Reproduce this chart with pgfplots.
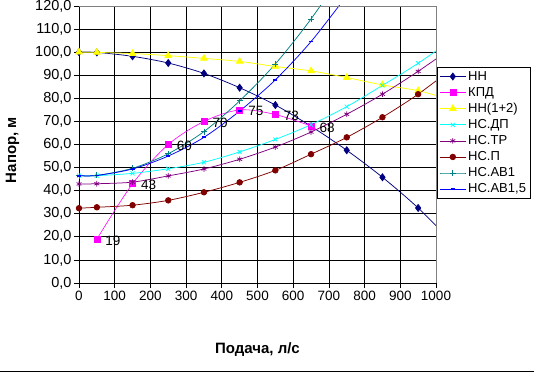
\documentclass[border=0pt]{standalone}
\usepackage{fontspec}
\setmainfont{Liberation Sans}
\usepackage{pgfplots}
\pgfplotsset{compat=1.18}
\definecolor{cNN}{RGB}{0,0,128}
\definecolor{cKPD}{RGB}{255,0,255}
\definecolor{cNN12}{RGB}{255,255,0}
\definecolor{cDP}{RGB}{0,255,255}
\definecolor{cTR}{RGB}{128,0,128}
\definecolor{cP}{RGB}{128,0,0}
\definecolor{cAB1}{RGB}{0,128,128}
\definecolor{cAB15}{RGB}{0,0,255}
\begin{document}
\begin{tikzpicture}[font=\fontsize{13bp}{15.6bp}\selectfont]
\useasboundingbox (0,0) rectangle (534bp,372bp);
\draw[black, line width=1bp] (0,0.5bp) -- (534bp,0.5bp);
\begin{axis}[
  at={(79bp,89bp)}, anchor=south west,
  scale only axis, width=357bp, height=277bp,
  xmin=0, xmax=1000, ymin=0, ymax=120,
  axis x line*=bottom, axis y line*=left,
  axis line style={black, line width=0.75pt, -},
  xtick={0,100,...,1000},
  xticklabels={0,100,200,300,400,500,600,700,800,900,1000},
  ytick={0,10,...,120},
  yticklabels={{0,0},{10,0},{20,0},{30,0},{40,0},{50,0},{60,0},{70,0},{80,0},{90,0},{100,0},{110,0},{120,0}},
  grid=major, major grid style={black, line width=0.75pt},
  tick align=outside, major tick length=5bp,
  tick style={black, line width=0.75pt},
  xticklabel style={font=\fontsize{13.5bp}{16bp}\selectfont},
  yticklabel style={font=\fontsize{14.5bp}{17bp}\selectfont, xshift=1bp},
  xlabel={\textbf{Подача, л/с}},
  ylabel={\textbf{Напор, м}},
  label style={font=\fontsize{15bp}{18bp}\selectfont},
  xlabel style={at={(axis description cs:0.5,-0.242)}, anchor=center},
  ylabel style={at={(axis description cs:-0.186,0.48)}, anchor=center},
  legend style={at={(1.003,0.78)}, anchor=north west, draw=black, fill=white,
    line width=0.75pt, font=\fontsize{13bp}{15.6bp}\selectfont,
    inner sep=2bp, row sep=1.5bp},
  legend cell align=left,
  legend image code/.code={\draw[mark repeat=2,mark phase=2] plot coordinates {(0bp,0bp) (13bp,0bp) (26bp,0bp)};},
  every axis plot/.append style={line width=0.75pt, smooth},
  after end axis/.code={\draw[gray, line width=0.75pt] (rel axis cs:0,1) -- (rel axis cs:1,1) -- (rel axis cs:1,0);},
]
\addplot[cNN, mark=diamond*, mark size=3.5bp, mark options={solid, fill=cNN}] coordinates {
(0,100)(50,99.9)(150,98.2)(250,95.3)(350,90.8)(450,84.6)(550,77.1)(650,67.9)(750,57.5)(850,45.8)(950,32.5)(1050,17)};
\addlegendentry{НН}
\addplot[cKPD, line width=0.6pt, mark=square*, mark size=3bp, mark options={fill=cKPD},
  point meta=explicit symbolic, nodes near coords={\pgfplotspointmeta},
  nodes near coords style={anchor=west, xshift=5bp, yshift=-1.5bp, text=black, font=\fontsize{13.5bp}{16bp}\selectfont}] coordinates {
(50,19)[19] (150,43)[43] (250,60)[60] (350,70)[70] (450,75)[75] (550,73)[73] (650,68)[68]};
\addlegendentry{КПД}
\addplot[cNN12, mark=triangle*, mark size=3.8bp, mark options={fill=cNN12}] coordinates {
(0,100)(50,99.9)(150,99.4)(250,98.5)(350,97.3)(450,96.0)(550,93.8)(650,91.9)(750,89.0)(850,85.8)(950,83.3)(1050,79)};
\addlegendentry{НН(1+2)}
\addplot[cDP, mark=x, mark size=2.8bp] coordinates {
(0,46.5)(50,46.5)(150,47.5)(250,49.5)(350,52.3)(450,56.8)(550,62.2)(650,68.6)(750,76.4)(850,85.6)(950,95.2)(1050,106)};
\addlegendentry{НС.ДП}
\addplot[cTR, mark=asterisk, mark size=2.8bp] coordinates {
(0,42.9)(50,43)(150,43.7)(250,46.4)(350,49.4)(450,53.6)(550,58.9)(650,65.4)(750,73.1)(850,81.8)(950,91.7)(1050,102.5)};
\addlegendentry{НС.ТР}
\addplot[cP, mark=*, mark size=2.8bp, mark options={fill=cP}] coordinates {
(0,32.4)(50,32.8)(150,33.7)(250,35.8)(350,39.3)(450,43.6)(550,48.8)(650,55.8)(750,63.1)(850,71.8)(950,81.8)(1050,93.5)};
\addlegendentry{НС.П}
\addplot[cAB1, mark=+, mark size=3bp] coordinates {
(0,46.5)(50,46.6)(150,49.7)(250,56)(350,65.6)(450,78.9)(550,94.9)(650,114.4)(750,137)};
\addlegendentry{НС.АВ1}
\addplot[cAB15, mark=-, mark size=2bp, mark options={line width=1.8pt}] coordinates {
(0,46.5)(50,46.6)(150,49.4)(250,55)(350,63.1)(450,74.5)(550,88)(650,104.6)(750,124.5)};
\addlegendentry{НС.АВ1,5}
\end{axis}
\end{tikzpicture}
\end{document}
